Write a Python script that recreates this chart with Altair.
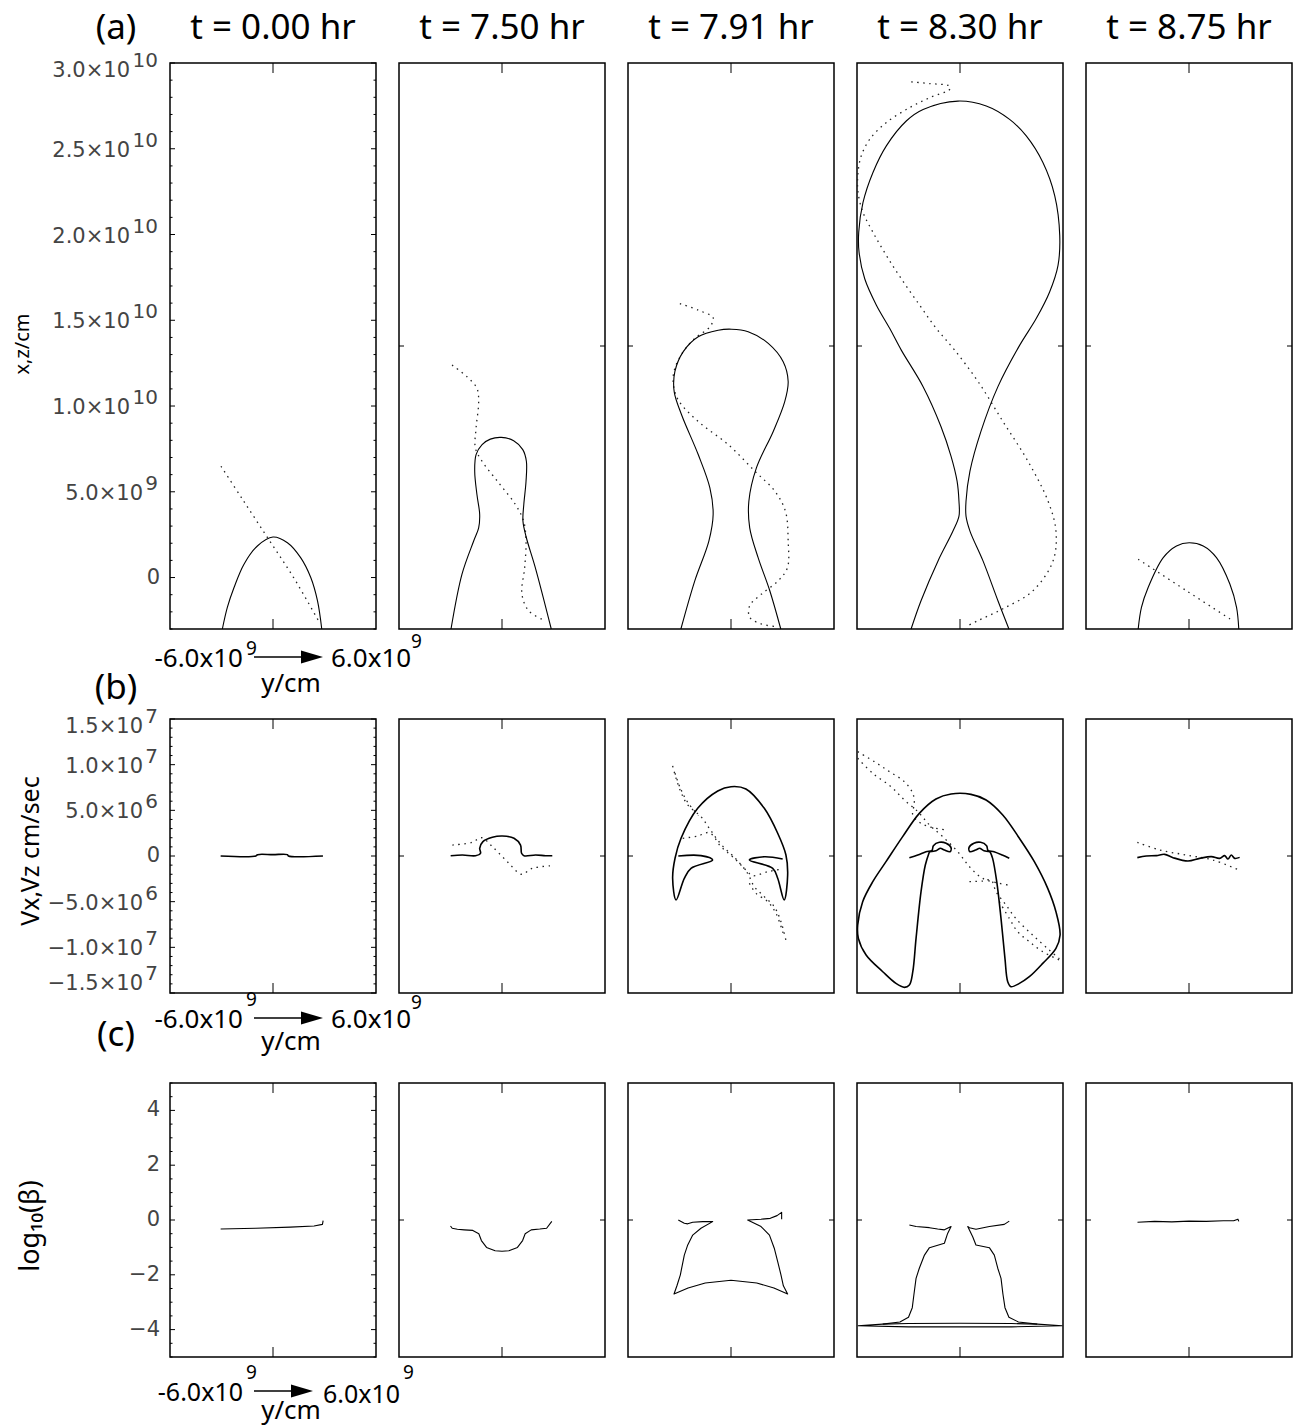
import altair as alt
import pandas as pd

# ---------------- text ----------------
times = ["t = 0.00 hr", "t = 7.50 hr", "t = 7.91 hr", "t = 8.30 hr", "t = 8.75 hr"]
row_tags = ["(a)", "(b)", "(c)"]
row_titles = ["x,z/cm", "Vx,Vz cm/sec", "log\u2081\u2080(\u03b2)"]
y_range_left = ["-6.0x10", "9"]
y_range_right = ["6.0x10", "9"]
y_axis_name = "y/cm"

# ---------------- axes (row a in 1e9 cm, row b in 1e6 cm/s, row c in log10 beta) -------------
x_domain = [-6.0, 6.0]          # 1e9 cm
a_domain = [-3.0, 30.0]
b_domain = [-15.0, 15.0]
c_domain = [-5.0, 5.0]

a_ticks = [30, 25, 20, 15, 10, 5, 0]
a_mant = ["3.0\u00d710", "2.5\u00d710", "2.0\u00d710", "1.5\u00d710", "1.0\u00d710", "5.0\u00d710", "0"]
a_exp = ["10", "10", "10", "10", "10", "9", ""]
b_ticks = [15, 10, 5, 0, -5, -10, -15]
b_mant = ["1.5\u00d710", "1.0\u00d710", "5.0\u00d710", "0", "\u22125.0\u00d710", "\u22121.0\u00d710", "\u22121.5\u00d710"]
b_exp = ["7", "7", "6", "", "6", "7", "7"]
c_ticks = [4, 2, 0, -2, -4]
c_mant = ["4", "2", "0", "\u22122", "\u22124"]
c_exp = ["", "", "", "", ""]

a_minor = [v for v in range(-3, 31) if v % 5 != 0]
b_minor = [v for v in range(-15, 16) if v % 5 != 0]
c_minor = [k / 2 for k in range(-10, 11) if k % 4 != 0]
mid_tick = [13.5, 0.0, 0.0]

# ---------------- row (a): x,z position (1e9 cm) ----------------
a1_solid = [(-2.95, -3.0), (-2.66, -1.74), (-2.27, -0.58), (-1.69, 0.78), (-0.91, 1.84), (0.0, 2.36),
            (0.84, 2.03), (1.61, 1.16), (2.20, 0.0), (2.59, -1.35), (2.84, -3.0)]
a1_dot = [(-3.03, 6.49), (-1.8, 4.6), (-0.3, 2.3), (1.2, 0.0), (2.70, -2.61)]

a2_solid = [(-2.97, -3.0), (-2.33, 0.20), (-1.65, 2.13), (-1.36, 2.90), (-1.30, 3.68), (-1.46, 4.84),
            (-1.59, 6.20), (-1.51, 7.17), (-1.16, 7.75), (-0.68, 8.07), (-0.04, 8.17), (0.68, 7.98),
            (1.21, 7.46), (1.42, 6.78), (1.40, 5.61), (1.27, 4.26), (1.22, 3.29), (1.42, 2.32),
            (1.94, 0.58), (2.87, -3.0)]
a2_dot = [(-2.91, 12.39), (-2.04, 11.71), (-1.46, 11.03), (-1.36, 10.26), (-1.51, 8.71), (-1.55, 7.55),
          (-1.16, 6.78), (-0.19, 5.52), (0.78, 4.26), (1.26, 3.29), (1.40, 2.13), (1.32, 0.58),
          (1.16, -0.96), (1.55, -1.93), (2.49, -2.51)]

a3_solid = [(-2.92, -3.0), (-2.11, -0.19), (-1.29, 2.13), (-1.04, 3.68), (-1.23, 5.23), (-1.91, 7.17),
            (-2.88, 9.49), (-3.31, 10.84), (-3.27, 12.00), (-2.78, 13.17), (-1.91, 14.04), (-0.75, 14.42),
            (0.03, 14.48), (1.00, 14.33), (2.17, 13.65), (3.04, 12.58), (3.33, 11.43), (3.13, 10.26),
            (2.46, 8.52), (1.48, 6.39), (1.04, 4.45), (1.09, 2.90), (1.58, 1.16), (2.26, -0.77), (2.90, -3.0)]
a3_dot = [(-2.98, 15.97), (-1.91, 15.59), (-1.04, 15.14), (-1.23, 14.62), (-2.11, 13.94), (-2.78, 13.17),
          (-3.27, 12.20), (-3.37, 11.43), (-3.08, 10.36), (-1.91, 9.10), (-0.16, 7.75), (1.39, 6.20),
          (2.55, 5.04), (3.17, 3.87), (3.33, 2.13), (3.29, 0.58), (2.75, -0.19), (1.78, -0.96),
          (1.09, -1.64), (1.09, -2.32), (1.78, -2.71), (2.55, -2.85)]

a4_solid = [(-2.85, -3.0), (-2.27, -1.35), (-1.28, 0.97), (-0.41, 2.71), (-0.06, 3.58), (-0.06, 4.45),
            (-0.17, 5.62), (-0.52, 7.07), (-1.11, 8.81), (-2.15, 11.13), (-3.42, 13.26), (-4.09, 14.52),
            (-4.87, 15.88), (-5.55, 17.42), (-5.88, 18.97), (-5.90, 20.13), (-5.65, 21.87), (-5.07, 23.62),
            (-4.29, 25.17), (-3.13, 26.62), (-2.15, 27.29), (-0.12, 27.78), (1.53, 27.49), (2.89, 26.71),
            (3.86, 25.75), (4.83, 24.20), (5.52, 22.26), (5.81, 19.94), (5.71, 18.20), (5.22, 16.65),
            (4.44, 15.10), (3.48, 13.55), (2.21, 11.13), (1.22, 8.52), (0.58, 6.20), (0.35, 4.45),
            (0.35, 3.58), (0.58, 2.71), (1.34, 0.97), (2.21, -1.35), (2.85, -3.0)]
a4_dot = [(-2.84, 28.90), (-1.76, 28.80), (-0.60, 28.65), (-0.60, 28.46), (-1.76, 27.98), (-2.93, 27.40),
          (-4.29, 26.53), (-5.26, 25.55), (-5.75, 24.59), (-5.94, 23.62), (-5.94, 22.46), (-5.65, 21.29),
          (-5.07, 20.13), (-4.29, 18.78), (-3.42, 17.42), (-2.35, 15.88), (-1.38, 14.52), (-0.31, 13.26),
          (1.05, 11.43), (2.50, 9.10), (3.96, 6.78), (5.13, 4.45), (5.59, 2.71), (5.42, 0.97),
          (4.25, -0.77), (2.50, -1.82), (1.05, -2.51), (0.35, -2.86)]

a5_solid = [(-2.96, -3.0), (-2.77, -1.74), (-2.38, -0.58), (-1.50, 1.16), (-0.73, 1.84), (0.01, 2.03),
            (0.83, 1.84), (1.60, 1.16), (2.38, -0.38), (2.77, -1.74), (2.90, -3.0)]
a5_dot = [(-2.96, 1.07), (-0.15, -0.77), (2.48, -2.47)]

# ---------------- row (b): Vx, Vz (1e6 cm/s) ----------------
b1_solid = [(-3.05, 0.0), (-1.0, 0.0), (-0.9, 0.15), (0.0, 0.15), (0.84, 0.15), (0.9, 0.0), (2.91, 0.0)]

b2_solid = [(-2.99, 0.03), (-2.31, 0.11), (-1.54, 0.03), (-1.25, 0.30), (-1.30, 0.84), (-1.11, 1.57),
            (-0.56, 2.05), (0.02, 2.19), (0.70, 1.94), (1.08, 1.20), (1.14, 0.30), (1.28, 0.03),
            (1.96, 0.11), (2.54, 0.03), (2.93, 0.03)]
b2_dot = [(-2.89, 1.20), (-1.73, 1.50), (-1.19, 2.00), (-0.56, 1.02), (0.31, -0.62), (1.14, -2.00),
          (1.76, -1.35), (2.93, -1.06)]

b3_solid = [(-3.07, 0.0), (-1.75, 0.04), (-1.07, -0.44), (-2.33, -1.35), (-2.72, -2.44), (-3.20, -4.82),
            (-3.40, -2.44), (-3.26, -0.25), (-2.91, 1.94), (-1.94, 5.22), (-0.77, 7.12), (0.0, 7.59),
            (0.87, 7.34), (1.94, 5.22), (2.72, 2.49), (3.20, 0.11), (3.30, -2.08), (3.10, -4.82),
            (2.72, -2.44), (2.43, -1.35), (1.07, -0.44), (1.94, -0.08), (3.01, -0.33)]
b3_dot_a = [(-3.40, 9.86), (-3.20, 8.51), (-2.91, 6.97), (-2.52, 5.59), (-1.75, 4.31), (-1.26, 3.03),
            (-0.58, 1.28), (0.29, -0.33), (0.97, -1.90), (1.36, -3.36), (1.94, -4.45), (2.52, -5.55),
            (2.91, -7.19), (3.24, -9.56)]
b3_dot_b = [(-2.81, 1.94), (-1.94, 2.19), (-1.26, 2.55), (-0.58, 1.02), (0.19, -0.25), (0.97, -1.72),
            (1.26, -2.16), (2.14, -1.72), (3.01, -1.42)]
b3_dot_c = [(-3.26, 9.06), (-2.95, 7.42), (-2.52, 5.88), (-1.90, 4.42)]
b3_dot_d = [(1.07, -2.99), (1.46, -4.09), (2.14, -5.00), (2.62, -6.28), (3.07, -8.65)]

b4_outer = [(-1.78, 0.47), (-2.02, -0.99), (-2.27, -3.91), (-2.56, -9.02), (-2.75, -12.67), (-2.95, -14.13),
            (-3.24, -14.38), (-3.73, -13.95), (-4.50, -12.67), (-5.47, -10.84), (-5.92, -9.02),
            (-5.96, -7.56), (-5.67, -5.00), (-5.08, -2.81), (-4.31, -0.62), (-3.34, 2.12), (-2.37, 4.67),
            (-1.40, 6.24), (-0.52, 6.79), (0.64, 6.75), (1.52, 6.13), (2.49, 4.49), (3.46, 1.94),
            (4.33, -0.62), (5.11, -3.54), (5.59, -6.10), (5.83, -8.65), (5.59, -10.11), (4.82, -11.76),
            (4.04, -13.22), (3.46, -13.95), (2.97, -14.31), (2.78, -13.76), (2.62, -11.24), (2.39, -6.86),
            (2.14, -2.81), (1.90, -0.26), (1.75, 0.47)]
b4_left_curl = [(-2.95, -0.18), (-2.46, 0.11), (-1.98, 0.47), (-1.63, 0.62), (-1.55, 1.13), (-1.20, 1.50),
                (-0.81, 1.39), (-0.52, 0.91), (-0.58, 0.47), (-0.91, 0.66), (-1.16, 0.84), (-1.40, 0.58),
                (-1.75, 0.47)]
b4_right_curl = [(2.87, -0.25), (2.46, 0.11), (1.98, 0.47), (1.63, 0.62), (1.55, 1.13), (1.20, 1.50),
                 (0.81, 1.39), (0.52, 0.91), (0.58, 0.47), (0.91, 0.66), (1.16, 0.84), (1.40, 0.58),
                 (1.75, 0.47)]
b4_dot_a = [(-5.96, 11.43), (-4.99, 10.33), (-4.11, 9.24), (-3.24, 8.14), (-2.75, 6.86), (-2.66, 5.77),
            (-2.75, 4.49), (-2.27, 3.58), (-1.59, 3.10), (-0.72, 2.85)]
b4_dot_b = [(-5.96, 10.70), (-5.08, 9.05), (-4.02, 7.59), (-3.24, 6.13), (-2.46, 4.86), (-1.78, 3.40),
            (-1.01, 2.12), (-0.13, 0.47), (0.55, -1.17), (1.32, -2.45), (2.29, -2.99), (2.78, -3.18)]
b4_dot_c = [(0.55, -2.81), (1.32, -2.74), (1.81, -2.63), (2.10, -3.91), (2.68, -5.37), (3.26, -6.86),
            (4.23, -8.65), (5.20, -10.30), (5.79, -11.24)]
b4_dot_d = [(2.29, -5.00), (2.88, -6.86), (3.36, -8.29), (4.04, -9.38), (4.82, -10.48), (5.79, -11.39)]

b5_solid = [(-3.01, -0.18), (-2.49, 0.0), (-1.90, 0.04), (-1.42, 0.18), (-0.93, -0.18), (-0.06, -0.55),
            (0.62, -0.26), (1.30, -0.07), (1.78, -0.26), (2.08, 0.04), (2.27, -0.33), (2.46, 0.11),
            (2.66, -0.26), (2.95, -0.15)]
b5_dot = [(-3.01, 1.50), (-1.71, 0.66), (-0.16, 0.11), (1.40, -0.44), (2.91, -1.53)]

# ---------------- row (c): log10(beta) ----------------
c1_solid = [(-3.05, -0.33), (-1.0, -0.30), (1.0, -0.26), (2.39, -0.22), (2.88, -0.16), (2.92, -0.02)]
c2_solid = [(-3.0, -0.22), (-2.9, -0.30), (-2.6, -0.34), (-2.2, -0.36), (-1.7, -0.38), (-1.35, -0.5),
            (-1.2, -0.75), (-0.9, -1.0), (-0.4, -1.12), (0.0, -1.14), (0.4, -1.12), (0.9, -1.0),
            (1.2, -0.75), (1.35, -0.5), (1.7, -0.36), (2.2, -0.33), (2.6, -0.30), (2.9, -0.05)]
c3_solid = [(2.95, 0.03), (2.95, 0.28), (2.68, 0.16), (2.29, 0.06), (1.75, 0.03), (0.97, 0.0), (1.75, -0.24),
            (2.24, -0.55), (2.52, -1.03), (2.72, -1.52), (2.91, -2.0), (3.05, -2.4), (3.30, -2.7),
            (2.5, -2.48), (1.5, -2.3), (0.0, -2.2), (-1.5, -2.3), (-2.5, -2.48), (-3.32, -2.7),
            (-3.15, -2.4), (-2.95, -2.0), (-2.72, -1.28), (-2.52, -0.91), (-2.23, -0.55), (-1.75, -0.30),
            (-1.07, -0.06), (-1.65, -0.06), (-2.23, -0.08), (-2.52, -0.14), (-2.72, -0.12), (-3.07, 0.0)]
c4_left = [(-2.95, -0.18), (-2.56, -0.24), (-1.78, -0.28), (-1.30, -0.33), (-0.91, -0.36), (-0.52, -0.24),
           (-0.72, -0.49), (-0.91, -0.85), (-1.78, -1.01), (-2.07, -1.28), (-2.37, -1.76), (-2.56, -2.13),
           (-2.68, -2.7), (-2.78, -3.2), (-3.0, -3.55), (-3.5, -3.72), (-4.5, -3.8)]
c4_right = [(2.87, -0.04), (2.58, -0.16), (1.71, -0.24), (0.93, -0.34), (0.55, -0.28), (0.45, -0.24),
            (0.74, -0.61), (0.93, -0.91), (1.71, -1.01), (2.00, -1.28), (2.20, -1.76), (2.39, -2.13),
            (2.5, -2.7), (2.62, -3.2), (2.85, -3.55), (3.4, -3.72), (4.5, -3.8)]
c4_lens = [(-5.95, -3.86), (-4.5, -3.8), (-3.0, -3.78), (0.0, -3.77), (3.0, -3.78), (4.5, -3.8),
           (5.95, -3.86), (3.0, -3.9), (0.0, -3.9), (-3.0, -3.9), (-5.95, -3.86)]
c5_solid = [(-3.0, -0.08), (-2.0, -0.05), (-1.0, -0.07), (0.0, -0.04), (1.0, -0.05), (2.0, -0.03),
            (2.6, -0.03), (2.85, 0.03), (2.9, -0.05)]

SOLID = [
    [[a1_solid], [a2_solid], [a3_solid], [a4_solid], [a5_solid]],
    [[b1_solid], [b2_solid], [b3_solid], [b4_outer, b4_left_curl, b4_right_curl], [b5_solid]],
    [[c1_solid], [c2_solid], [c3_solid], [c4_left, c4_right, c4_lens], [c5_solid]],
]
DOTTED = [
    [[a1_dot], [a2_dot], [a3_dot], [a4_dot], [a5_dot]],
    [[], [b2_dot], [b3_dot_a, b3_dot_b, b3_dot_c, b3_dot_d], [b4_dot_a, b4_dot_b, b4_dot_c, b4_dot_d], [b5_dot]],
    [[], [], [], [], []],
]
Y_DOMS = [a_domain, b_domain, c_domain]
TICKS = [(a_ticks, a_mant, a_exp), (b_ticks, b_mant, b_exp), (c_ticks, c_mant, c_exp)]
MINORS = [a_minor, b_minor, c_minor]

# ---------------- layout / style ----------------
W = 206
ROW_H = [566, 274, 274]
LINE_W = [1.1, 1.6, 1.1]
INTERP = ["catmull-rom", "catmull-rom", "linear"]
SANS = "Noto Sans, DejaVu Sans"
LAB = "DejaVu Sans"
# offsets below each row for the y-range annotation:
# (text centre, left exponent, right exponent, y/cm centre, right text x, right exponent x, font size)
ANNOT = [(30, 20, 13, 55, 161, 241, 26), (27, 7, 10, 49, 161, 241, 26), (36, 16, 16, 54, 153, 233, 25)]
TITLE_POS = [(-147, 281, 20), (-139, 132, 25), (-139, 143, 27)]
TAG_Y = [-24, -31, -48]


def seg_df(segs):
    recs = []
    for s, seg in enumerate(segs):
        for i, (x, y) in enumerate(seg):
            recs.append({"x": x, "y": y, "seg": s, "i": i})
    return pd.DataFrame(recs)


def one(text):
    return pd.DataFrame({"t": [text]})


def panel(r, c):
    H = ROW_H[r]
    xsc = alt.Scale(domain=x_domain, nice=False, zero=False)
    ysc = alt.Scale(domain=Y_DOMS[r], nice=False, zero=False)
    X = lambda f: alt.X(f, scale=xsc, axis=None)
    Y = lambda f: alt.Y(f, scale=ysc, axis=None)
    layers = []

    # ticks (drawn inward, IDL style)
    def yrules(vals, L):
        df = pd.DataFrame({"v": vals})
        base = alt.Chart(df).mark_rule(color="black", strokeWidth=1)
        return [base.encode(y=Y("v:Q"), x=alt.value(0), x2=alt.value(L)),
                base.encode(y=Y("v:Q"), x=alt.value(W - L), x2=alt.value(W))]

    if c == 0:
        layers += yrules(TICKS[r][0], 5)
        layers += yrules(MINORS[r], 2.5)
    else:
        layers += yrules([mid_tick[r]], 5)
    xt = alt.Chart(pd.DataFrame({"v": [0.0]})).mark_rule(color="black", strokeWidth=1)
    layers.append(xt.encode(x=X("v:Q"), y=alt.value(0), y2=alt.value(10)))
    layers.append(xt.encode(x=X("v:Q"), y=alt.value(H - 10), y2=alt.value(H)))

    # curves
    dots = DOTTED[r][c]
    if dots:
        layers.append(alt.Chart(seg_df(dots)).mark_line(color="#222", strokeWidth=1.3, strokeDash=[1.5, 4.5],
                                                        interpolate=INTERP[r])
                      .encode(x=X("x:Q"), y=Y("y:Q"), detail="seg:N", order="i:Q"))
    layers.append(alt.Chart(seg_df(SOLID[r][c])).mark_line(color="black", strokeWidth=LINE_W[r], strokeJoin="round",
                                                           interpolate=INTERP[r])
                  .encode(x=X("x:Q"), y=Y("y:Q"), detail="seg:N", order="i:Q"))

    # column title
    if r == 0:
        layers.append(alt.Chart(one(times[c])).mark_text(font=SANS, fontSize=35, baseline="alphabetic", align="center",
                                                          color="black")
                      .encode(text="t:N", x=alt.value(W / 2), y=alt.value(-24)))

    if c == 0:
        vals, mant, exp = TICKS[r]
        lo, hi = Y_DOMS[r]
        lab = pd.DataFrame({"v": vals, "m": mant, "e": exp})
        lab["n"] = lab["e"].str.len()
        lab["pos"] = ["top" if v == hi else ("bot" if v == lo else "mid") for v in vals]
        dys = {"top": 8, "mid": 2, "bot": -9}
        for n, mx in [(0, -10), (1, -27), (2, -40)]:
            for pos, dy in dys.items():
                sub = lab[(lab.n == n) & (lab.pos == pos)]
                if sub.empty:
                    continue
                d = dy if n > 0 else 0
                layers.append(alt.Chart(sub).mark_text(align="right", baseline="middle", dy=d, font=LAB, fontSize=21,
                                                       color="#444")
                              .encode(y=Y("v:Q"), x=alt.value(mx), text="m:N"))
                if n > 0:
                    layers.append(alt.Chart(sub).mark_text(align="right", baseline="middle", dy=d - 10, font=LAB,
                                                           fontSize=20, color="#444")
                                  .encode(y=Y("v:Q"), x=alt.value(-12), text="e:N"))
        # row title (rotated)
        tx, ty, tfs = TITLE_POS[r]
        layers.append(alt.Chart(one(row_titles[r])).mark_text(font=SANS, fontSize=tfs, angle=270, align="center",
                                                               baseline="middle", color="black")
                      .encode(text="t:N", x=alt.value(tx), y=alt.value(ty)))
        # row tag
        layers.append(alt.Chart(one(row_tags[r])).mark_text(font=SANS, fontSize=35, align="center",
                                                             baseline="alphabetic" if r == 0 else "middle",
                                                             color="black")
                      .encode(text="t:N", x=alt.value(-54), y=alt.value(TAG_Y[r])))
        # y-range annotation under the panel
        cy, ley, rey, ycy, rx, rex, fs = ANNOT[r]
        tm = dict(font=SANS, color="black", baseline="middle")
        layers.append(alt.Chart(one(y_range_left[0])).mark_text(align="right", fontSize=fs, **tm)
                      .encode(text="t:N", x=alt.value(73), y=alt.value(H + cy)))
        layers.append(alt.Chart(one(y_range_left[1])).mark_text(align="left", fontSize=19, **tm)
                      .encode(text="t:N", x=alt.value(76), y=alt.value(H + ley)))
        layers.append(alt.Chart(one(y_range_right[0])).mark_text(align="left", fontSize=fs, **tm)
                      .encode(text="t:N", x=alt.value(rx), y=alt.value(H + cy + (2 if r == 2 else 0))))
        layers.append(alt.Chart(one(y_range_right[1])).mark_text(align="left", fontSize=19, **tm)
                      .encode(text="t:N", x=alt.value(rex), y=alt.value(H + rey)))
        layers.append(alt.Chart(one(y_axis_name)).mark_text(align="center", fontSize=26, **tm)
                      .encode(text="t:N", x=alt.value(121), y=alt.value(H + ycy)))
        head_x = 142 if r < 2 else 132
        layers.append(alt.Chart(one("arrow")).mark_rule(color="black", strokeWidth=1.6)
                      .encode(x=alt.value(84), x2=alt.value(head_x - 6), y=alt.value(H + cy - 2)))
        layers.append(alt.Chart(one("arrow")).mark_point(shape="M-1,-0.6L1,0L-1,0.6Z", filled=True, color="black",
                                                         opacity=1, size=484, strokeWidth=0)
                      .encode(x=alt.value(head_x), y=alt.value(H + cy - 2)))

    return alt.layer(*layers).properties(width=W, height=H)


panels = [panel(r, c) for r in range(3) for c in range(5)]

chart = (
    alt.concat(*panels, columns=5, spacing={"row": 90, "column": 23}, bounds="flush", align="each")
    .properties(padding={"left": 12, "top": 10, "right": 5, "bottom": 5}, background="white")
    .configure_view(stroke="black", strokeWidth=1.5)
)

chart.save("out.html", embed_options={"renderer": "svg", "actions": False})
